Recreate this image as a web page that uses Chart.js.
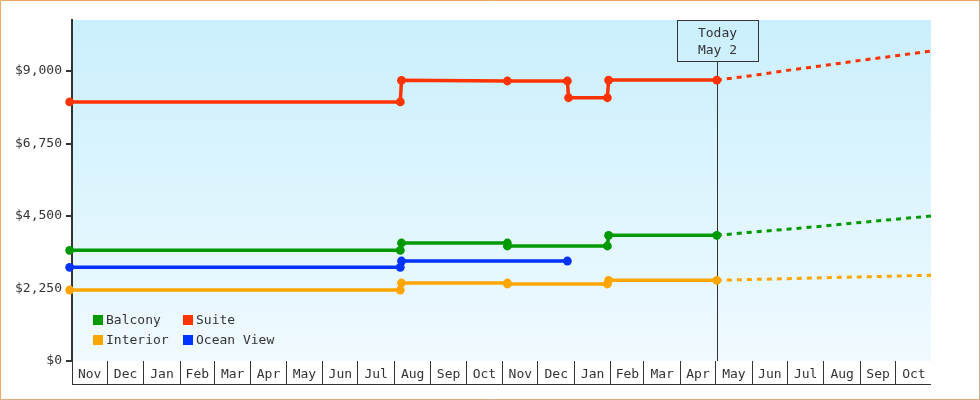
<!DOCTYPE html>
<html><head><meta charset="utf-8">
<script src="https://cdn.jsdelivr.net/npm/chart.js@4/dist/chart.umd.min.js"></script>
<style>html,body{margin:0;padding:0;background:#fff;overflow:hidden;} canvas{display:block;}</style>
</head><body>
<canvas id="c" width="980" height="400"></canvas>
<script>
// ---- data ----
const axisStart = '2023-11-01';
const axisEnd = '2025-10-31';
const monthLabels = ['Nov','Dec','Jan','Feb','Mar','Apr','May','Jun','Jul','Aug','Sep','Oct',
                     'Nov','Dec','Jan','Feb','Mar','Apr','May','Jun','Jul','Aug','Sep','Oct'];
const yTicks = [0, 2250, 4500, 6750, 9000];
const yMax = 10583;

const seriesNames = ['Balcony', 'Suite', 'Interior', 'Ocean View'];
const seriesColors = ['#009900', '#ff3300', '#ffa500', '#0033ff'];

const balconyDates = ['2023-10-30','2024-08-06','2024-08-07','2024-11-05','2024-11-05','2025-01-29','2025-01-30','2025-05-02'];
const balconyValues = [3435, 3435, 3662, 3662, 3569, 3569, 3901, 3901];

const suiteDates = ['2023-10-30','2024-08-06','2024-08-07','2024-11-05','2024-12-26','2024-12-27','2025-01-29','2025-01-30','2025-05-02'];
const suiteValues = [8040, 8040, 8710, 8690, 8690, 8170, 8170, 8720, 8720];

const interiorDates = ['2023-10-30','2024-08-06','2024-08-07','2024-11-05','2024-11-05','2025-01-29','2025-01-30','2025-05-02'];
const interiorValues = [2203, 2203, 2421, 2421, 2390, 2390, 2504, 2504];

const oceanDates = ['2023-10-30','2024-08-06','2024-08-07','2024-12-26'];
const oceanValues = [2908, 2908, 3103, 3103];

const projDates = ['2025-05-02','2025-06-01','2025-07-01','2025-08-01','2025-09-01','2025-10-01','2025-10-31'];
const balconyProj = [3901, 4000, 4090, 4190, 4300, 4400, 4500];
const suiteProj = [8720, 8855, 9020, 9170, 9330, 9470, 9621];
const interiorProj = [2504, 2530, 2555, 2585, 2610, 2635, 2660];

const todayDate = '2025-05-02';
const todayLines = ['Today', 'May 2'];

// ---- helpers ----
const [sy, sm, sd] = axisStart.split('-').map(Number);
const originMs = Date.UTC(sy, sm - 1, sd);
function dayOf(s) { const [y, m, d] = s.split('-').map(Number); return (Date.UTC(y, m - 1, d) - originMs) / 86400000; }
function pts(dates, vals) { return dates.map((d, i) => ({ x: dayOf(d), y: vals[i] })); }

// month boundaries & midpoints
const monthTicks = [];
for (let i = 0; i < monthLabels.length; i++) {
  const a = (Date.UTC(sy, sm - 1 + i, 1) - originMs) / 86400000;
  const b = (Date.UTC(sy, sm + i, 1) - originMs) / 86400000;
  monthTicks.push({ value: a });
  monthTicks.push({ value: (a + b) / 2 });
}

const FONT = "'DejaVu Sans Mono', monospace";
const DARK = '#333333';
Chart.defaults.font.family = FONT;
Chart.defaults.font.size = 13;
Chart.defaults.color = DARK;

function solid(label, color, data) {
  return { label, data, borderColor: color, backgroundColor: color, borderWidth: 3.5,
    pointRadius: 4.4, pointHoverRadius: 4.4, pointBackgroundColor: color, pointBorderWidth: 0,
    tension: 0, clip: false, fill: false };
}
function dashed(label, color, data) {
  return { label, data, borderColor: color, backgroundColor: color, borderWidth: 3,
    borderDash: [5, 5], pointRadius: 0, tension: 0, clip: false, fill: false };
}

const datasets = [
  dashed(seriesNames[0] + ' proj', seriesColors[0], pts(projDates, balconyProj)),
  dashed(seriesNames[1] + ' proj', seriesColors[1], pts(projDates, suiteProj)),
  dashed(seriesNames[2] + ' proj', seriesColors[2], pts(projDates, interiorProj)),
  solid(seriesNames[2], seriesColors[2], pts(interiorDates, interiorValues)),
  solid(seriesNames[3], seriesColors[3], pts(oceanDates, oceanValues)),
  solid(seriesNames[0], seriesColors[0], pts(balconyDates, balconyValues)),
  solid(seriesNames[1], seriesColors[1], pts(suiteDates, suiteValues)),
];

const decor = {
  id: 'decor',
  beforeDraw(chart) {
    const { ctx, chartArea: a } = chart;
    ctx.save();
    ctx.fillStyle = '#ffffff';
    ctx.fillRect(0, 0, chart.width, chart.height);
    const g = ctx.createLinearGradient(0, a.top, 0, a.bottom);
    g.addColorStop(0, '#caeffc');
    g.addColorStop(1, '#f0faff');
    ctx.fillStyle = g;
    ctx.fillRect(a.left, a.top, a.right - a.left, a.bottom - a.top);
    ctx.restore();
  },
  beforeDatasetsDraw(chart) {
    const { ctx, chartArea: a, scales: { x } } = chart;
    const tx = Math.round(x.getPixelForValue(dayOf(todayDate))) + 0.5;
    const bw = 81, bh = 41;
    ctx.save();
    ctx.strokeStyle = DARK;
    ctx.lineWidth = 1;
    ctx.beginPath();
    ctx.moveTo(tx, a.top + bh);
    ctx.lineTo(tx, a.bottom);
    ctx.stroke();
    const bx = Math.round(tx - bw / 2) + 0.5, by = a.top + 0.5;
    ctx.strokeRect(bx, by, bw, bh);
    ctx.fillStyle = DARK;
    ctx.font = '13px ' + FONT;
    ctx.textAlign = 'center';
    ctx.textBaseline = 'middle';
    ctx.fillText(todayLines[0], tx, a.top + 13.5);
    ctx.fillText(todayLines[1], tx, a.top + 31);
    ctx.restore();
  },
  afterDraw(chart) {
    const { ctx, chartArea: a, scales: { x } } = chart;
    ctx.save();
    // bottom line of month row
    ctx.strokeStyle = DARK;
    ctx.lineWidth = 1;
    ctx.beginPath();
    ctx.moveTo(Math.round(x.getPixelForValue(0)), a.bottom + 23.5);
    ctx.lineTo(a.right, a.bottom + 23.5);
    ctx.stroke();
    // legend
    const colX = [a.left + 21, a.left + 111];
    const rowY = [a.bottom - 41, a.bottom - 21];
    ctx.font = '13px ' + FONT;
    ctx.textBaseline = 'middle';
    ctx.textAlign = 'left';
    seriesNames.forEach((name, k) => {
      const cx = colX[k % 2], cy = rowY[Math.floor(k / 2)];
      ctx.fillStyle = seriesColors[k];
      ctx.fillRect(cx, cy - 5, 10, 10);
      ctx.fillStyle = DARK;
      ctx.fillText(name, cx + 13, cy + 0.5);
    });
    // frame
    ctx.lineWidth = 1;
    ctx.strokeStyle = '#eaa864';
    ctx.beginPath();
    ctx.moveTo(0.5, chart.height); ctx.lineTo(0.5, 0.5); ctx.lineTo(chart.width, 0.5);
    ctx.stroke();
    ctx.strokeStyle = '#dcab84';
    ctx.beginPath();
    ctx.moveTo(chart.width - 0.5, 0); ctx.lineTo(chart.width - 0.5, chart.height - 0.5); ctx.lineTo(0, chart.height - 0.5);
    ctx.stroke();
    ctx.restore();
  }
};

new Chart(document.getElementById('c'), {
  type: 'line',
  data: { datasets },
  options: {
    responsive: false,
    animation: false,
    devicePixelRatio: 1,
    layout: { padding: { left: 15, top: 20, right: 49, bottom: 0 } },
    plugins: { legend: { display: false }, tooltip: { enabled: false } },
    scales: {
      x: {
        type: 'linear',
        min: 0,
        max: dayOf(axisEnd),
        afterBuildTicks: (s) => { s.ticks = monthTicks.map(t => ({ value: t.value })); },
        afterFit: (s) => { s.height = 39; },
        border: { display: false },
        grid: {
          drawOnChartArea: false, drawTicks: true, tickLength: 23, lineWidth: 1,
          color: (c) => (c.index % 2 === 0 ? DARK : 'rgba(0,0,0,0)')
        },
        ticks: {
          autoSkip: false, maxRotation: 0, minRotation: 0, padding: -17, color: DARK,
          callback: (v, i) => (i % 2 === 1 ? monthLabels[(i - 1) / 2] : '')
        }
      },
      y: {
        min: 0,
        max: yMax,
        afterBuildTicks: (s) => { s.ticks = yTicks.map(v => ({ value: v })); },
        afterFit: (s) => { s.width = 57; },
        border: { display: true, color: DARK, width: 2 },
        grid: { drawOnChartArea: false, drawTicks: true, tickLength: 6, lineWidth: 2, color: DARK },
        ticks: {
          padding: 4, color: DARK,
          callback: (v) => '$' + Number(v).toLocaleString('en-US')
        }
      }
    }
  },
  plugins: [decor]
});
</script>
</body></html>
